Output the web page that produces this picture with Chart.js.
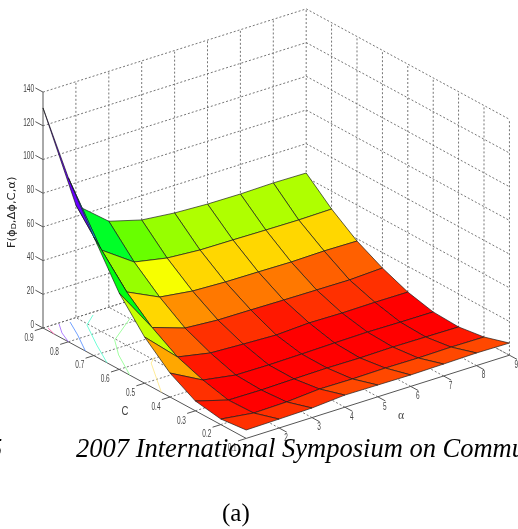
<!DOCTYPE html>
<html>
<head>
<meta charset="utf-8">
<title>F surface</title>
<script src="https://cdn.jsdelivr.net/npm/chart.js@4"></script>
<style>
    html, body { margin: 0; padding: 0; background: #fff; overflow: hidden; }
    canvas { display: block; }
</style>
</head>
<body>
<canvas id="surfaceChart" width="518" height="529"></canvas>
<script>
/* axis values */
var cValues = [0.9, 0.8, 0.7, 0.6, 0.5, 0.4, 0.3, 0.2, 0.1];
var alphaValues = [1, 2, 3, 4, 5, 6, 7, 8, 9];
var zTicks = [0, 20, 40, 60, 80, 100, 120, 140];
var cTickLabels = ['0.9', '0.8', '0.7', '0.6', '0.5', '0.4', '0.3', '0.2', '0.1'];
var alphaTickLabels = ['', '2', '3', '4', '5', '6', '7', '8', '9'];

/* surface height for each C, one value per alpha */
var fAtC09 = [130.6, 66.8, 51.0, 45.6, 43.6, 42.7, 42.5, 42.9, 42.6];
var fAtC08 = [97.3, 48.3, 35.0, 31.2, 29.8, 29.6, 29.3, 29.1, 29.4];
var fAtC07 = [70.4, 31.6, 22.4, 19.8, 19.0, 18.8, 18.5, 18.9, 18.6];
var fAtC06 = [45.3, 18.7, 12.2, 10.8, 10.6, 10.3, 10.1, 9.9, 10.8];
var fAtC05 = [27.4, 9.4, 5.6, 4.7, 3.9, 4.9, 4.6, 4.8, 4.7];
var fAtC04 = [14.2, 3.9, 0.7, 0.5, 0.8, 1.2, 1.5, 1.2, 1.1];
var fAtC03 = [5.8, 0.2, 0.0, 0.4, 0.7, 0.5, 0.8, 0.6, 0.4];
var fAtC02 = [3.3, 0.7, 1.1, 2.6, 2.4, 2.7, 2.5, 2.8, 2.6];
var fAtC01 = [5.0, 5.3, 5.7, 7.2, 7.0, 6.8, 7.1, 7.5, 7.2];
var surfaceRows = [fAtC09, fAtC08, fAtC07, fAtC06, fAtC05, fAtC04, fAtC03, fAtC02, fAtC01];

/* contour lines on the floor */
var contour1Alpha = [1.1, 1.0];
var contour1C = [0.893, 0.855];
var contour2Alpha = [1.45, 1.19, 1.0];
var contour2C = [0.895, 0.85, 0.8];
var contour3Alpha = [1.73, 1.42, 1.0];
var contour3C = [0.888, 0.818, 0.733];
var contour4Alpha = [2.42, 1.95, 1.43, 1.0];
var contour4C = [0.887, 0.85, 0.744, 0.648];
var contour5Alpha = [3.08, 1.95, 1.5, 1.0];
var contour5C = [0.823, 0.741, 0.667, 0.558];
var contour6Alpha = [2.12, 1.84, 1.0];
var contour6C = [0.606, 0.583, 0.434];

/* fixed view of the 3D box, in canvas units */
function project(c, alpha, z) {
    var a = alpha - 1;
    var b = (0.9 - c) / 0.1;
    return { x: 43 + 32.9 * a + 25.4 * b, y: 328 - 10.4 * a + 13.8 * b - 1.685 * z };
}

/* matlab hsv colormap, 64 levels */
function hsvColor(z) {
    var hue = Math.round((z - 1) * 2.77 / 5.625) * 5.625;
    hue = Math.max(0, Math.min(hue, 354));
    return 'hsl(' + hue + ', 100%, 50%)';
}

var gridStyle = { borderColor: '#666', borderWidth: 0.9, borderDash: [2, 2] };
var axisStyle = { borderColor: '#555', borderWidth: 1 };

var datasets = [];
var drawOrder = 0;

function addLine(points, style) {
    datasets.push(Object.assign({
        data: points,
        showLine: true,
        pointRadius: 0,
        tension: 0,
        fill: false,
        order: -(drawOrder++)
    }, style));
}

/* back walls and floor */
var last = cValues.length - 1;
zTicks.forEach(function (z) {
    addLine([project(cValues[0], 1, z), project(cValues[0], 9, z), project(cValues[last], 9, z)], gridStyle);
});
alphaValues.slice(1).forEach(function (alpha) {
    addLine([project(0.1, alpha, 0), project(0.9, alpha, 0), project(0.9, alpha, 140)], gridStyle);
});
cValues.slice(0, last).forEach(function (c) {
    addLine([project(c, 1, 0), project(c, 9, 0)], gridStyle);
});
cValues.slice(1).forEach(function (c) {
    addLine([project(c, 9, 0), project(c, 9, 140)], gridStyle);
});

/* axes and tick marks */
addLine([project(0.9, 1, 0), project(0.9, 1, 140)], axisStyle);
addLine([project(0.9, 1, 0), project(0.1, 1, 0)], axisStyle);
addLine([project(0.1, 1, 0), project(0.1, 9, 0)], axisStyle);
zTicks.forEach(function (z) {
    addLine([project(0.9, 1, z), project(0.93, 1, z)], axisStyle);
});
cValues.forEach(function (c) {
    addLine([project(c, 1, 0), project(c, 0.75, 0)], axisStyle);
});
alphaValues.slice(1).forEach(function (alpha) {
    addLine([project(0.1, alpha, 0), project(0.07, alpha, 0)], axisStyle);
});

/* floor contours */
[
    [contour1Alpha, contour1C, '#ff70b8'],
    [contour2Alpha, contour2C, '#b080ff'],
    [contour3Alpha, contour3C, '#70a0ff'],
    [contour4Alpha, contour4C, '#70ffd8'],
    [contour5Alpha, contour5C, '#a0ffa0'],
    [contour6Alpha, contour6C, '#ffec98']
].forEach(function (level) {
    var points = level[0].map(function (alpha, i) { return project(level[1][i], alpha, 0); });
    addLine(points, { borderColor: level[2], borderWidth: 1 });
});

/* surface patches, back to front */
for (var r = 0; r < last; r++) {
    for (var k = last - 1; k >= 0; k--) {
        var z00 = surfaceRows[r][k], z01 = surfaceRows[r][k + 1];
        var z10 = surfaceRows[r + 1][k], z11 = surfaceRows[r + 1][k + 1];
        addLine([
            project(cValues[r], alphaValues[k], z00),
            project(cValues[r], alphaValues[k + 1], z01),
            project(cValues[r + 1], alphaValues[k + 1], z11),
            project(cValues[r + 1], alphaValues[k], z10),
            project(cValues[r], alphaValues[k], z00)
        ], {
            fill: 'shape',
            backgroundColor: hsvColor(z10),
            borderColor: 'rgba(25, 25, 25, 0.85)',
            borderWidth: 0.8
        });
    }
}

/* squeezed labels, the figure was scaled narrow */
function squeezed(ctx, text, x, y, align, font, squeeze, color) {
    ctx.save();
    ctx.translate(x, y);
    ctx.scale(squeeze, 1);
    ctx.font = font;
    ctx.fillStyle = color;
    ctx.textAlign = align;
    ctx.textBaseline = 'middle';
    ctx.fillText(text, 0, 0);
    ctx.restore();
}

var labelsPlugin = {
    id: 'boxLabels',
    afterDraw: function (chart) {
        var ctx = chart.ctx;
        var sx = chart.scales.x, sy = chart.scales.y;
        var tickFont = '10px "Liberation Sans"';
        var tickColor = '#444';

        function at(p, dx, dy) {
            return { x: sx.getPixelForValue(p.x) + dx, y: sy.getPixelForValue(p.y) + dy };
        }

        zTicks.forEach(function (z) {
            var p = at(project(0.9, 1, z), -9, -3);
            squeezed(ctx, String(z), p.x, p.y, 'right', tickFont, 0.65, tickColor);
        });
        cValues.forEach(function (c, i) {
            var p = at(project(c, 1, 0), -14, 10);
            squeezed(ctx, cTickLabels[i], p.x, p.y, 'center', tickFont, 0.65, tickColor);
        });
        alphaValues.forEach(function (alpha, i) {
            var p = at(project(0.1, alpha, 0), 7, 10);
            squeezed(ctx, alphaTickLabels[i], p.x, p.y, 'center', tickFont, 0.65, tickColor);
        });
        squeezed(ctx, 'C', 125, 412, 'center', '12px "Liberation Sans"', 0.8, tickColor);
        squeezed(ctx, 'α', 401, 416, 'center', '13px "Liberation Serif"', 0.9, tickColor);

        /* z axis title, rotated, with a subscript */
        ctx.save();
        ctx.translate(12, 248);
        ctx.rotate(-Math.PI / 2);
        ctx.scale(1, 0.85);
        ctx.fillStyle = '#222';
        ctx.textBaseline = 'middle';
        ctx.textAlign = 'left';
        ctx.font = '11.5px "DejaVu Sans"';
        var head = 'F(ϕ', tail = ',Δϕ,C,α)';
        var cursor = 0;
        ctx.fillText(head, cursor, 0);
        cursor += ctx.measureText(head).width;
        ctx.font = '8px "DejaVu Sans"';
        ctx.fillText('D', cursor, 3);
        cursor += ctx.measureText('D').width;
        ctx.font = '11.5px "DejaVu Sans"';
        ctx.fillText(tail, cursor, 0);
        ctx.restore();

        /* page text that runs across the figure */
        ctx.fillStyle = '#000';
        ctx.textAlign = 'left';
        ctx.textBaseline = 'alphabetic';
        ctx.font = 'italic 26.5px "Liberation Serif"';
        ctx.fillText('5', -11, 457);
        ctx.fillText('2007 International Symposium on Commun', 76, 457);
        ctx.font = '25px "Liberation Serif"';
        ctx.fillText('(a)', 222, 521);
    }
};

new Chart(document.getElementById('surfaceChart'), {
    type: 'scatter',
    data: { datasets: datasets },
    options: {
        responsive: false,
        animation: false,
        devicePixelRatio: 1,
        layout: { padding: 0 },
        plugins: {
            legend: { display: false },
            tooltip: { enabled: false },
            title: { display: false }
        },
        scales: {
            x: { type: 'linear', min: 0, max: 518, display: false },
            y: { type: 'linear', min: 0, max: 529, reverse: true, display: false }
        }
    },
    plugins: [labelsPlugin]
});
</script>
</body>
</html>
